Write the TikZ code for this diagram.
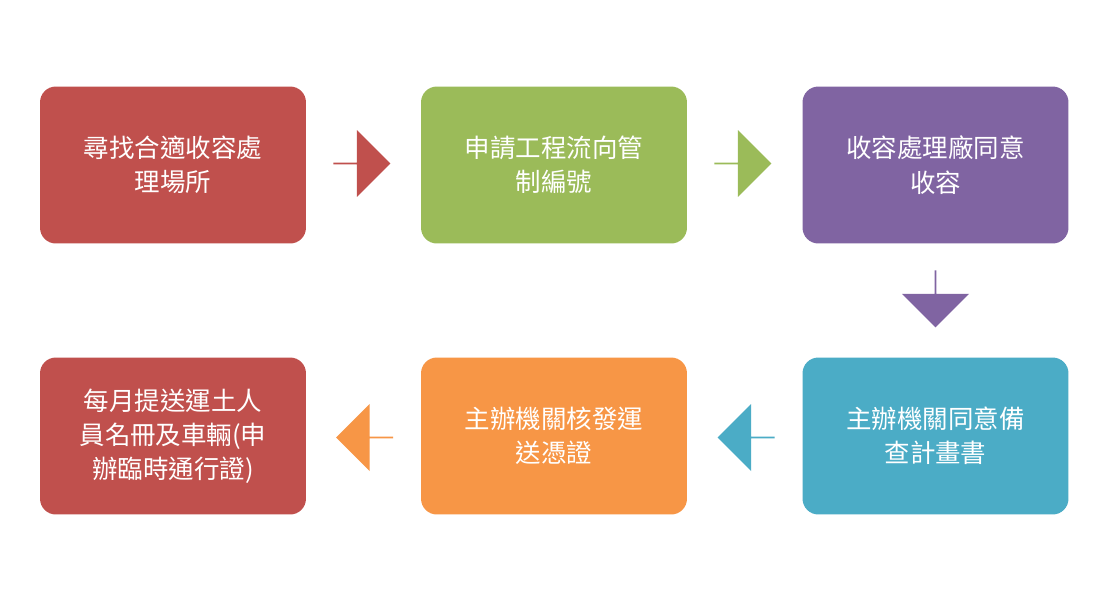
\documentclass[tikz,border=0pt]{standalone}
\usepackage{fontspec}
\setmainfont{Noto Sans CJK TC}
\usetikzlibrary{shapes.arrows}
\definecolor{cred}{HTML}{C0504D}
\definecolor{cgreen}{HTML}{9BBB59}
\definecolor{cpurple}{HTML}{8064A2}
\definecolor{cteal}{HTML}{4BACC6}
\definecolor{corange}{HTML}{F79646}
\tikzset{
  stepbox/.style={rounded corners=9pt, minimum width=5.32cm, minimum height=3.14cm,
    text=white, align=center, inner sep=0pt, font=\fontsize{14.5}{19.5}\selectfont},
  blockarrow/.style={single arrow, minimum height=1.14cm, minimum width=1.34cm,
    single arrow head extend=0.28cm, inner sep=0pt, draw=none}
}
\begin{document}
\begin{tikzpicture}[x=0.02cm, y=-0.02cm]
    % Background
    \fill[white] (0,0) rectangle (1115,592);

    % Top row
    \node[stepbox, fill=cred] (find) at (173,165) {尋找合適收容處\\理場所};
    \node[stepbox, fill=cgreen] (apply) at (554,165) {申請工程流向管\\制編號};
    \node[stepbox, fill=cpurple] (agree) at (935.5,165) {收容處理廠同意\\收容};

    % Bottom row
    \node[stepbox, fill=cteal] (plan) at (935.5,436) {主辦機關同意備\\查計畫書};
    \node[stepbox, fill=corange] (permit) at (554,436) {主辦機關核發運\\送憑證};
    \node[stepbox, fill=cred] (report) at (173,436) {每月提送運土人\\員名冊及車輛(申\\辦臨時通行證)};

    % Arrows
    \node[blockarrow, fill=cred] (a1) at (361.5,163.5) {};
    \node[blockarrow, fill=cgreen] (a2) at (742.5,163.5) {};
    \node[blockarrow, fill=cpurple, shape border rotate=270] (a3) at (935.5,298.5) {};
    \node[blockarrow, fill=cteal, shape border rotate=180] (a4) at (746.5,437.5) {};
    \node[blockarrow, fill=corange, shape border rotate=180] (a5) at (365,437.5) {};
\end{tikzpicture}
\end{document}
